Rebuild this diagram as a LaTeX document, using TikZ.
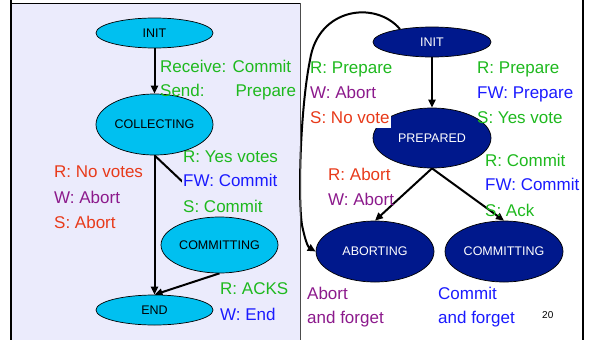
\documentclass[tikz,border=0pt]{standalone}
\usepackage{fontspec}
\setmainfont{Liberation Sans}
\usetikzlibrary{shapes.geometric,arrows.meta,backgrounds}
\definecolor{lav}{RGB}{235,235,252}
\definecolor{stcyan}{RGB}{0,192,240}
\definecolor{stnavy}{RGB}{0,24,140}
\definecolor{lgreen}{RGB}{30,185,30}
\definecolor{lred}{RGB}{232,58,26}
\definecolor{lpurple}{RGB}{140,26,140}
\definecolor{lblue}{RGB}{26,26,255}
\begin{document}
\begin{tikzpicture}[x=1pt,y=-1pt,
  coordstate/.style={ellipse,draw=black,line width=0.7pt,fill=stcyan,inner sep=0pt,
    minimum width=117pt,font=\fontsize{12.5}{14}\selectfont},
  partstate/.style={ellipse,draw=black,line width=0.7pt,fill=stnavy,text=white,inner sep=0pt,
    minimum width=118pt,font=\fontsize{12.5}{14}\selectfont},
  lbl/.style={anchor=base west,inner xsep=1pt,inner ysep=1pt,text height=13pt,text depth=4pt,
    font=\fontsize{17}{20}\selectfont},
  flow/.style={line width=2pt,-{Triangle[length=8pt,width=7pt]}}
]
\useasboundingbox (0,0) rectangle (591,340);

% coordinator panel
\begin{pgfonlayer}{background}
  \fill[lav] (11,3) rectangle (300,340);
\end{pgfonlayer}
\draw[line width=0.8pt] (11,3) -- (300,3);
\draw[line width=0.6pt,black!70] (300,3) -- (300,340);
\draw[line width=2pt] (11,0) -- (11,340);
\draw[line width=2pt] (583,0) -- (583,340);

% coordinator states
\node[coordstate,minimum height=30pt] (cinit) at (154.5,33) {INIT};
\node[coordstate,minimum height=61pt] (ccoll) at (154.5,124.5) {COLLECTING};
\node[coordstate,minimum height=56pt] (ccomm) at (219.5,245) {COMMITTING};
\node[coordstate,minimum height=30pt] (cend) at (154.5,310) {END};

% participant states
\node[partstate,minimum height=30pt] (pinit) at (432,42) {INIT};
\node[partstate,minimum height=60pt] (pprep) at (432,138) {PREPARED};
\node[partstate,minimum height=61pt] (pabort) at (375,251.5) {ABORTING};
\node[partstate,minimum height=61pt] (pcomm) at (504,251.5) {COMMITTING};

% transitions
\begin{pgfonlayer}{background}
  \draw[flow] (cinit) -- (ccoll);
  \draw[flow] (ccoll) -- (cend);
  \draw[flow] (ccoll.south) -- (ccomm.north);
  \draw[flow] (ccomm.south) -- (cend.north);
  \draw[flow] (pinit) -- (pprep);
  \draw[flow] (pprep.south) -- (pabort.north);
  \draw[flow] (pprep.south) -- (pcomm.north);
  \draw[flow] (pinit.158) .. controls (375,0) and (318,8) .. (310,60)
     .. controls (300,110) and (298,200) .. (302,225)
     .. controls (305,240) and (308,247) .. (pabort.west);
  % labels whose background hides the commit transition
  \node[lbl,text=lgreen,fill=lav,inner ysep=4pt] (lyes) at (182,162) {R: Yes votes};
  \node[lbl,text=lblue,fill=lav,inner ysep=6pt] (lfwc) at (182,186) {FW: Commit};
  \node[lbl,text=lgreen,fill=lav,inner ysep=4pt] (lsc) at (182,212) {S: Commit};
\end{pgfonlayer}

% coordinator labels
\node[lbl,text=lgreen] (lrc) at (159,72) {Receive: Commit};
\node[lbl,text=lgreen] (lsp) at (159,96) {Send:\hspace{31pt}Prepare};
\node[lbl,text=lred] (lrn) at (53,177) {R: No votes};
\node[lbl,text=lpurple] (lwa) at (53,203) {W: Abort};
\node[lbl,text=lred] (lsa) at (53,228) {S: Abort};
\node[lbl,text=lgreen] (lack) at (219,294) {R: ACKS};
\node[lbl,text=lblue] (lwe) at (219,320) {W: End};

% participant labels
\node[lbl,text=lgreen] (prp1) at (309,73) {R: Prepare};
\node[lbl,text=lpurple] (pwa1) at (309,98) {W: Abort};
\node[lbl,text=lred,fill=white] (psn) at (309,123) {S: No vote};
\node[lbl,text=lgreen] (prp2) at (476,73) {R: Prepare};
\node[lbl,text=lblue] (pfwp) at (476,98) {FW: Prepare};
\node[lbl,text=lgreen] (psy) at (476,123) {S: Yes vote};
\node[lbl,text=lgreen] (prc) at (484,166) {R: Commit};
\node[lbl,text=lblue] (pfwc) at (484,190) {FW: Commit};
\node[lbl,text=lgreen] (psa) at (484,216) {S: Ack};
\node[lbl,text=lred] (pra) at (327,180) {R: Abort};
\node[lbl,text=lpurple] (pwa2) at (327,205) {W: Abort};
\node[lbl,text=lpurple] (paf1) at (306,299) {Abort};
\node[lbl,text=lpurple] (paf2) at (306,323) {and forget};
\node[lbl,text=lblue] (pcf1) at (437,299) {Commit};
\node[lbl,text=lblue] (pcf2) at (437,323) {and forget};
\node[anchor=base west,inner sep=0pt,font=\fontsize{10}{12}\selectfont] (pnum) at (542,318) {20};
\end{tikzpicture}
\end{document}
